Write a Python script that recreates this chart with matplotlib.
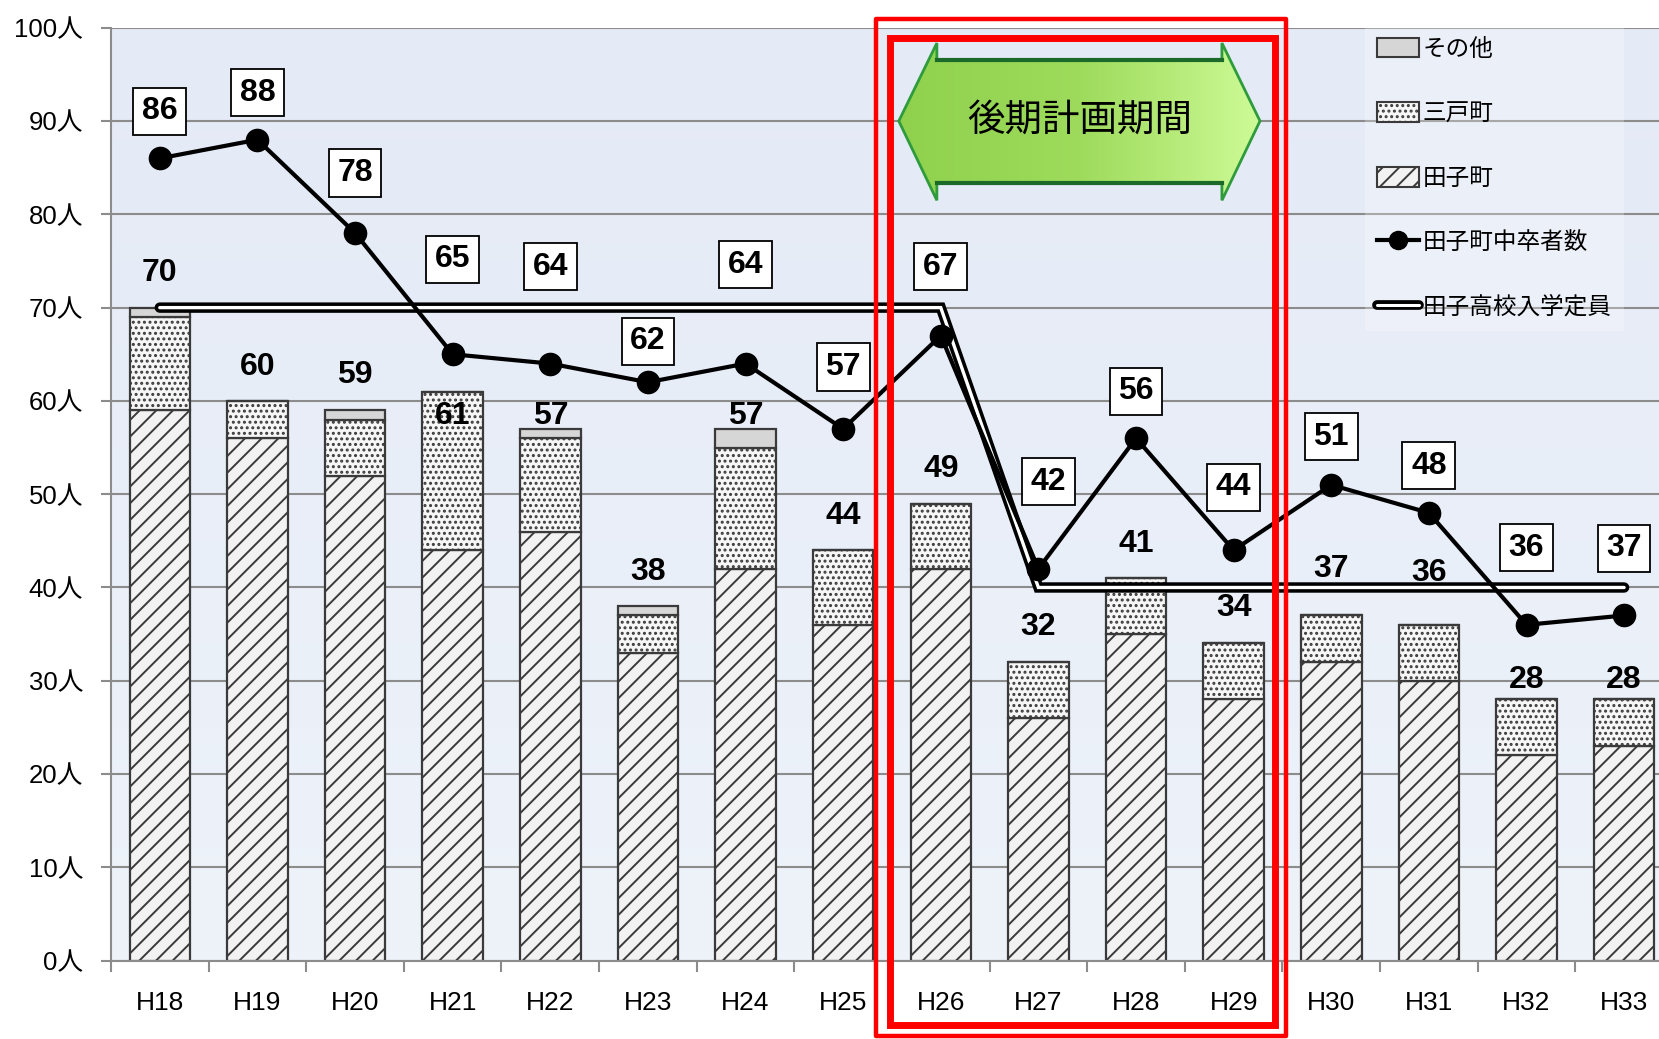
import numpy as np
import matplotlib
matplotlib.use('Agg')
import matplotlib.pyplot as plt
from matplotlib.patches import Patch, Polygon, Rectangle
from matplotlib.lines import Line2D
from matplotlib.colors import LinearSegmentedColormap
import matplotlib.patheffects as pe

plt.rcParams['font.family'] = ['Liberation Sans', 'Noto Sans CJK JP']
plt.rcParams['hatch.linewidth'] = 1.4

# data
years = ['H18', 'H19', 'H20', 'H21', 'H22', 'H23', 'H24', 'H25',
         'H26', 'H27', 'H28', 'H29', 'H30', 'H31', 'H32', 'H33']
tago = [59, 56, 52, 44, 46, 33, 42, 36, 42, 26, 35, 28, 32, 30, 22, 23]
sannohe = [10, 4, 6, 17, 10, 4, 13, 8, 7, 6, 6, 6, 5, 6, 6, 5]
other = [1, 0, 1, 0, 1, 1, 2, 0, 0, 0, 0, 0, 0, 0, 0, 0]
graduates = [86, 88, 78, 65, 64, 62, 64, 57, 67, 42, 56, 44, 51, 48, 36, 37]
capacity = [70, 70, 70, 70, 70, 70, 70, 70, 70, 40, 40, 40, 40, 40, 40, 40]
y_ticks = [0, 10, 20, 30, 40, 50, 60, 70, 80, 90, 100]

# label offsets in pixels (layout only)
line_lab_dx = [0, 0, 0, 0, 0, 0, 0, 0, 0, 10, 0, 0, 0, 0, 0, 0]
line_lab_dy = [47, 47, 60, 95, 97, 41, 99, 62, 69, 87, 47, 63, 48, 47, 77, 67]
bar_lab_dy = [35, 34, 35, -24, 13, 34, 13, 34, 35, 35, 34, 35, 46, 52, 19, 19]

x = np.arange(len(years))
tago = np.array(tago)
sannohe = np.array(sannohe)
other = np.array(other)
totals = tago + sannohe + other

fig = plt.figure(figsize=(16.59, 10.39), dpi=100)
ax = fig.add_axes([0.0669, 0.0754, 0.9415, 0.8979])

# plot area background (soft vertical gradient)
bg = LinearSegmentedColormap.from_list('bg', ['#EEF3FA', '#E4EAF6'])
ax.imshow(np.linspace(0, 1, 100).reshape(-1, 1), cmap=bg, origin='lower',
          extent=[0, 1, 0, 1], transform=ax.transAxes, aspect='auto', zorder=0)

ax.set_axisbelow(True)
ax.yaxis.grid(True, color='#8C8C8C', lw=1.5)
for s in ['top', 'right']:
    ax.spines[s].set_visible(False)
for s in ['left', 'bottom']:
    ax.spines[s].set_color('#8C8C8C')
    ax.spines[s].set_linewidth(1.5)

w = 0.62
ec = '#3A3A3A'
ax.bar(x, tago, w, color='#F2F2F2', edgecolor=ec, hatch='//', lw=1.6, zorder=2)
ax.bar(x, sannohe, w, bottom=tago, color='#F6F6F6', edgecolor=ec, hatch='...', lw=1.6, zorder=2)
ax.bar(x, other, w, bottom=tago + sannohe, color='#D6D6D6', edgecolor=ec, lw=1.6, zorder=2)

# capacity as double line
ax.plot(x, capacity, color='white', lw=2.4, solid_capstyle='round', solid_joinstyle='miter',
        zorder=3, path_effects=[pe.Stroke(linewidth=7.5, foreground='black', capstyle='round'), pe.Normal()])

ax.plot(x, graduates, color='black', lw=3, marker='o', ms=16, zorder=4)

for i in range(len(years)):
    ax.annotate(str(graduates[i]), (x[i], graduates[i]), xytext=(line_lab_dx[i], line_lab_dy[i]),
                textcoords='offset pixels', ha='center', va='center', fontsize=23, fontweight='bold',
                zorder=5, bbox=dict(boxstyle='square,pad=0.27', fc='white', ec='black', lw=1.3))
    ax.annotate(str(totals[i]), (x[i], totals[i]), xytext=(0, bar_lab_dy[i]),
                textcoords='offset pixels', ha='center', va='center', fontsize=23, fontweight='bold',
                zorder=5)

# axes ticks
ax.set_yticks(y_ticks)
ax.set_yticklabels([f'{v}人' for v in y_ticks])
ax.tick_params(axis='y', length=7, width=1.5, color='#8C8C8C', labelsize=18.5, pad=13)
ax.set_xticks(np.arange(-0.5, 16, 1))
ax.set_xticklabels([])
ax.tick_params(axis='x', which='major', length=8, width=1.5, color='#8C8C8C', direction='out')
ax.set_xticks(x, minor=True)
ax.set_xticklabels(years, minor=True)
ax.tick_params(axis='x', which='minor', length=0, labelsize=19, pad=22)

# later-plan period arrow
poly_pts = [(7.57, 90.0), (7.96, 98.36), (7.96, 96.5), (10.88, 96.5), (10.88, 98.36),
            (11.27, 90.0), (10.88, 81.5), (10.88, 83.4), (7.96, 83.4), (7.96, 81.5)]
arrow = Polygon(poly_pts, closed=True, fc='none', ec='#2E9B3C', lw=2, zorder=6)
ax.add_patch(arrow)
green = LinearSegmentedColormap.from_list('g', [(0, '#8FD14D'), (0.5, '#9EDB5C'), (0.75, '#B5EA78'), (1, '#CEFB98')])
im = ax.imshow(np.linspace(0, 1, 256).reshape(1, -1), cmap=green, extent=[7.57, 11.27, 81.5, 98.36],
               aspect='auto', zorder=5.9)
im.set_clip_path(arrow)
ax.plot([7.96, 10.88], [96.5, 96.5], color='#1C6A2A', lw=3, zorder=6.1)
ax.plot([7.96, 10.88], [83.4, 83.4], color='#1C6A2A', lw=3, zorder=6.1)
ax.text(9.42, 90.1, '後期計画期間', fontsize=27, ha='center', va='center',
        family=['Noto Sans CJK JP'], zorder=7)
ax.set_xlim(-0.5, 15.5)
ax.set_ylim(0, 100)

# red frame
ax.add_patch(Rectangle((7.34, -8.07), 4.2, 108.97, fill=False, ec='red', lw=3.2,
                       joinstyle='round', clip_on=False, zorder=8))
ax.add_patch(Rectangle((7.48, -6.9), 3.94, 105.85, fill=False, ec='red', lw=5,
                       joinstyle='miter', clip_on=False, zorder=8))

# legend
handles = [
    Patch(fc='#D6D6D6', ec=ec, lw=1.5),
    Patch(fc='#F6F6F6', ec=ec, hatch='...', lw=1.5),
    Patch(fc='#F2F2F2', ec=ec, hatch='//', lw=1.5),
    Line2D([], [], color='black', lw=3, marker='o', ms=13),
    Line2D([], [], color='white', lw=2.2, solid_capstyle='round',
           path_effects=[pe.Stroke(linewidth=7, foreground='black', capstyle='round'), pe.Normal()]),
]
labels = ['その他', '三戸町', '田子町', '田子町中卒者数', '田子高校入学定員']
leg = fig.legend(handles, labels, loc='upper left', bbox_to_anchor=(0.8228, 0.975),
                 prop={'family': ['Noto Sans CJK JP'], 'size': 17}, handlelength=1.8, handleheight=0.9,
                 handletextpad=0.15, labelspacing=1.76, borderpad=0.5, borderaxespad=0,
                 frameon=True, fancybox=False)
leg.get_frame().set_facecolor('white')
leg.get_frame().set_alpha(0.25)
leg.get_frame().set_edgecolor('none')

fig.savefig('out.png', dpi=100)
